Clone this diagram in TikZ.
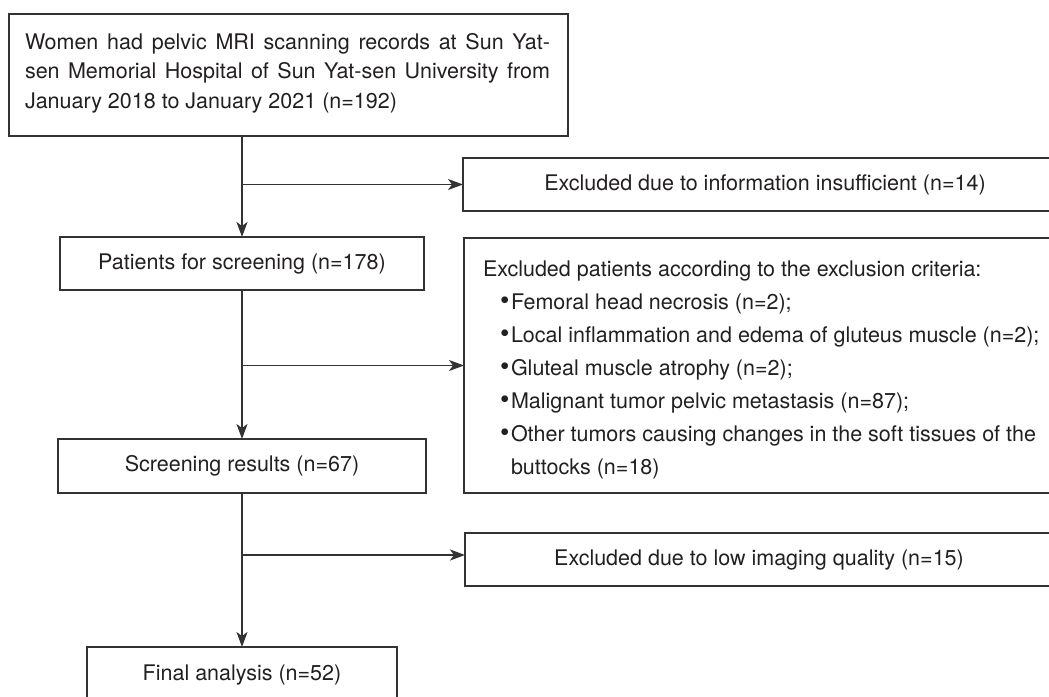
\documentclass[tikz,border=0pt]{standalone}
\usepackage{fontspec}
\usepackage{graphicx}
\setmainfont{TeX Gyre Heros}
\usetikzlibrary{arrows.meta}
\definecolor{lncol}{HTML}{333333}
\definecolor{txcol}{HTML}{231F20}
\tikzset{
  boxnode/.style={draw=lncol, line width=1.5pt, inner sep=0pt, outer sep=0pt, text=txcol},
  txt/.style={inner sep=0pt, outer sep=0pt, text=txcol, anchor=base west},
  flow/.style={draw=lncol, line width=1.4pt, -{Stealth[length=15pt,width=11pt,inset=4pt]}}
}
\newcommand{\bulitem}{\hspace*{17pt}\makebox[11pt][l]{\raisebox{-0.5pt}{\scalebox{1.25}{\textbullet}}}}
\begin{document}
\begin{tikzpicture}[x=1pt,y=-1pt,font=\fontsize{21.5}{29}\selectfont]
\useasboundingbox (0,0) rectangle (1049,696);
\begin{scope}
\clip (0,0) rectangle (1049,696);
% boxes
\node[boxnode, anchor=north west, minimum width=559pt, minimum height=122pt] (top) at (9,14) {};
\node[txt] (t1) at (25,49) {\makebox[525pt][s]{Women had pelvic MRI scanning records at Sun Yat-}};
\node[txt] (t2) at (25,78.5) {\makebox[525pt][s]{sen Memorial Hospital of Sun Yat-sen University from}};
\node[txt] (t3) at (25,108) {January 2018 to January 2021 (n=192)};

\node[boxnode, minimum width=604pt, minimum height=53pt] (ex1) at (765,184.5) {Excluded due to information insufficient (n=14)};
\node[boxnode, minimum width=364pt, minimum height=53pt] (pat) at (242,263.5) {Patients for screening (n=178)};
\node[boxnode, anchor=north west, minimum width=620pt, minimum height=255pt] (ex2) at (464,238) {};
\node[txt] (h0) at (483,276) {Excluded patients according to the exclusion criteria:};
\node[txt] (h1) at (483,309) {\bulitem Femoral head necrosis (n=2);};
\node[txt] (h2) at (483,342) {\bulitem Local inflammation and edema of gluteus muscle (n=2);};
\node[txt] (h3) at (483,375) {\bulitem Gluteal muscle atrophy (n=2);};
\node[txt] (h4) at (483,408) {\bulitem Malignant tumor pelvic metastasis (n=87);};
\node[txt] (h5) at (483,441) {\bulitem Other tumors causing changes in the soft tissues of the};
\node[txt] (h6) at (483,474) {\hspace*{28pt}buttocks (n=18)};
\node[boxnode, minimum width=368pt, minimum height=54pt] (scr) at (242,466) {Screening results (n=67)};
\node[boxnode, minimum width=310pt, minimum height=56pt] (fin) at (242,675) {Final analysis (n=52)};
\node[boxnode, minimum width=588pt, minimum height=53pt] (ex3) at (759,559.5) {Excluded due to low imaging quality (n=15)};

% connectors
\draw[flow] (pat.north |- top.south) -- (pat.north);
\coordinate (b1) at (pat.north |- ex1.west);
\draw[flow] (b1) -- (ex1.west);
\draw[flow] (pat.south) -- (scr.north);
\coordinate (b2) at (pat.south |- ex2.west);
\draw[flow] (b2) -- (ex2.west);
\draw[flow] (scr.south) -- (fin.north);
\coordinate (b3) at (scr.south |- 0,555);
\draw[flow] (b3) -- (b3 -| ex3.west);
\end{scope}
\end{tikzpicture}
\end{document}
